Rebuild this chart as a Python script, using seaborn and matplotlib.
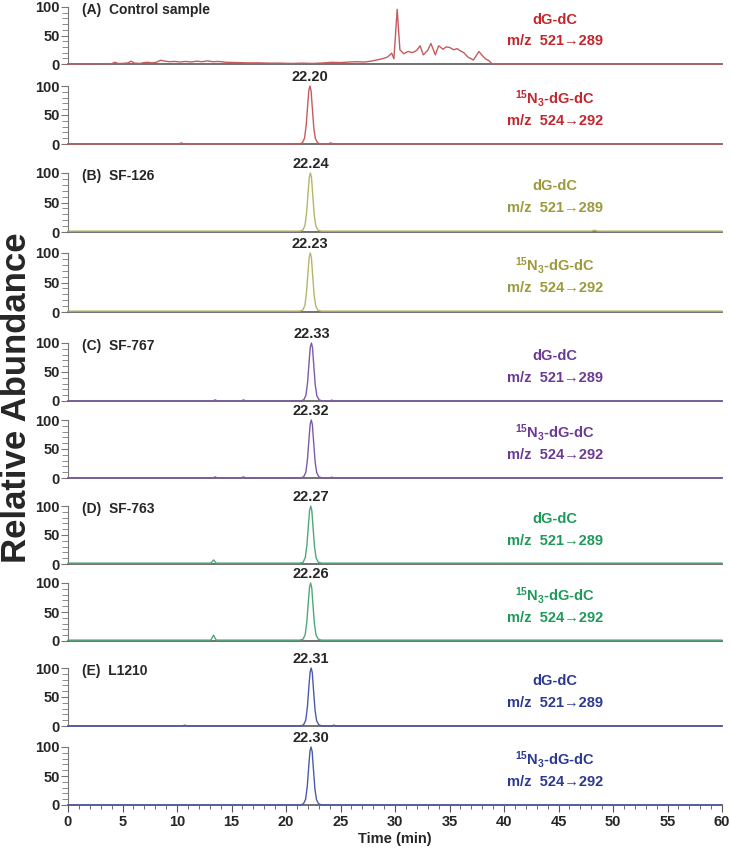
import pandas as pd
import seaborn as sns
import matplotlib.pyplot as plt

# ============================================================================
# DATA  (time in min, relative abundance in %)
# ============================================================================
# (A) control sample, dG-dC m/z 521->289 (noisy background, no peak at 22 min)
a1_t = [0, 4.0, 4.3, 4.6, 5.0, 5.5, 5.8, 6.1, 6.6, 7.0, 7.3, 7.7, 8.1, 8.5,
        8.9, 9.3, 9.8, 10.3, 10.8, 11.3, 11.8, 12.3, 12.8, 13.3, 13.8, 14.5,
        15.5, 16.5, 17.5, 18.5, 19.5, 20.5, 21.5, 22.5, 23.5, 24.2, 25.0,
        25.8, 26.5, 27.2, 27.8, 28.3, 28.8, 29.3, 29.7, 29.9, 30.2, 30.45,
        30.8, 31.2, 31.6, 32.0, 32.3, 32.6, 33.0, 33.3, 33.7, 34.0, 34.4,
        34.7, 35.0, 35.4, 35.7, 36.0, 36.3, 36.7, 37.2, 37.7, 38.0, 38.3,
        38.6, 38.9, 39.2, 60]
a1_y = [0, 0.5, 3, 1, 1, 2, 5, 1.5, 1, 2.5, 3, 2, 3, 6.5,
        5, 4, 4.5, 3.5, 4.5, 3.5, 5, 4, 5.5, 4, 4.5, 3,
        2.5, 2, 2, 1.5, 1.5, 1, 1.5, 1, 2, 3, 2.5,
        3.5, 4, 3.5, 5, 7, 9, 12, 19, 9, 96, 25,
        18, 22, 20, 24, 32, 16, 24, 36, 16, 32, 26,
        30, 29, 25, 27, 23, 20, 12, 7, 22, 15, 9,
        6, 0.5, 0, 0]

# (A) control sample, 15N3-dG-dC m/z 524->292
a2_t = [0, 10.2, 10.4, 10.6, 21.20, 21.50, 21.70, 21.85, 22.00, 22.10, 22.20,
        22.30, 22.40, 22.55, 22.70, 22.90, 23.20, 23.9, 24.1, 24.3, 60]
a2_y = [0, 0, 2, 0, 0, 2, 10, 32, 70, 93, 100,
        92, 66, 28, 9, 2, 0, 0, 2, 0, 0]

# (B) SF-126
b1_t = [0, 21.24, 21.54, 21.74, 21.89, 22.04, 22.14, 22.24, 22.34, 22.44,
        22.59, 22.74, 22.94, 23.24, 48.0, 48.3, 48.6, 60]
b1_y = [1.5, 1.5, 3, 11, 33, 70, 93, 100, 92, 66,
        29, 10, 3, 1.5, 1.5, 3, 1.5, 1.5]
b2_t = [0, 21.23, 21.53, 21.73, 21.88, 22.03, 22.13, 22.23, 22.33, 22.43,
        22.58, 22.73, 22.93, 23.23, 60]
b2_y = [1.5, 1.5, 3, 11, 33, 70, 93, 100, 92, 66,
        29, 10, 3, 1.5, 1.5]

# (C) SF-767
c1_t = [0, 13.3, 13.5, 13.7, 15.9, 16.1, 16.3, 21.33, 21.63, 21.83, 21.98,
        22.13, 22.23, 22.33, 22.43, 22.53, 22.68, 22.83, 23.03, 23.33, 24.0,
        24.2, 24.4, 60]
c1_y = [0, 0, 2, 0, 0, 2, 0, 0, 2, 10, 32,
        70, 93, 100, 92, 66, 28, 9, 2, 0, 0,
        1.5, 0, 0]
c2_t = [0, 13.3, 13.5, 13.7, 15.9, 16.1, 16.3, 21.32, 21.62, 21.82, 21.97,
        22.12, 22.22, 22.32, 22.42, 22.52, 22.67, 22.82, 23.02, 23.32, 24.0,
        24.2, 24.4, 60]
c2_y = [0, 0, 2, 0, 0, 2, 0, 0, 2, 10, 32,
        70, 93, 100, 92, 66, 28, 9, 2, 0, 0,
        1.5, 0, 0]

# (D) SF-763
d1_t = [0, 13.1, 13.35, 13.6, 21.27, 21.57, 21.77, 21.92, 22.07, 22.17,
        22.27, 22.37, 22.47, 22.62, 22.77, 22.97, 23.27, 60]
d1_y = [1.5, 1.5, 7, 1.5, 1.5, 3, 11, 33, 70, 93,
        100, 92, 66, 29, 10, 3, 1.5, 1.5]
d2_t = [0, 13.1, 13.35, 13.6, 21.26, 21.56, 21.76, 21.91, 22.06, 22.16,
        22.26, 22.36, 22.46, 22.61, 22.76, 22.96, 23.26, 60]
d2_y = [1.5, 1.5, 10, 1.5, 1.5, 3, 11, 33, 70, 93,
        100, 92, 66, 29, 10, 3, 1.5, 1.5]

# (E) L1210
e1_t = [0, 10.5, 10.7, 10.9, 21.31, 21.61, 21.81, 21.96, 22.11, 22.21,
        22.31, 22.41, 22.51, 22.66, 22.81, 23.01, 23.31, 24.2, 24.4, 24.6, 60]
e1_y = [0, 0, 1.5, 0, 0, 2, 10, 32, 70, 93,
        100, 92, 66, 28, 9, 2, 0, 0, 1.5, 0, 0]
e2_t = [0, 21.30, 21.60, 21.80, 21.95, 22.10, 22.20, 22.30, 22.40, 22.50,
        22.65, 22.80, 23.00, 23.30, 60]
e2_y = [0, 0, 2, 10, 32, 70, 93, 100, 92, 66,
        28, 9, 2, 0, 0]

# panel annotations
sample_labels = ['(A)  Control sample', None, '(B)  SF-126', None,
                 '(C)  SF-767', None, '(D)  SF-763', None, '(E)  L1210', None]
peak_labels = [None, '22.20', '22.24', '22.23', '22.33', '22.32',
               '22.27', '22.26', '22.31', '22.30']
peak_times = [None, 22.20, 22.24, 22.23, 22.33, 22.32, 22.27, 22.26, 22.31, 22.30]
analyte_labels = ['dG-dC', r'$\mathbf{^{15}N_3}$-dG-dC'] * 5
transition_labels = ['m/z  521\u2192289', 'm/z  524\u2192292'] * 5

# ============================================================================
# STYLE
# ============================================================================
text_colors = ['#C1272D', '#9C9A3A', '#6B3A95', '#1E9A58', '#2B3A90']
line_colors = ['#C65B5E', '#B8B469', '#7D5BA8', '#4FA878', '#4B5AAE']

traces = [(a1_t, a1_y), (a2_t, a2_y), (b1_t, b1_y), (b2_t, b2_y),
          (c1_t, c1_y), (c2_t, c2_y), (d1_t, d1_y), (d2_t, d2_y),
          (e1_t, e1_y), (e2_t, e2_y)]

frames = []
for i, (t, y) in enumerate(traces):
    frames.append(pd.DataFrame({'time': t, 'abundance': y, 'panel': i}))
df = pd.concat(frames, ignore_index=True)

sns.set_theme(style="ticks")
plt.rcParams['font.family'] = ['Liberation Sans', 'DejaVu Sans']
plt.rcParams['font.weight'] = 'bold'
plt.rcParams['mathtext.fontset'] = 'custom'
plt.rcParams['mathtext.rm'] = 'Liberation Sans'
plt.rcParams['mathtext.bf'] = 'Liberation Sans:bold'

W, H = 731, 850
fig = plt.figure(figsize=(W / 100, H / 100), dpi=100)

# pixel rows of the 100 and 0 levels of each panel
top_px = [7, 86, 173, 253, 343, 420, 506, 583, 668, 747]
zero_px = [64, 144, 232, 312, 401, 478, 564, 641, 726, 805]
left_px, right_px = 68, 722

for i in range(10):
    ax = fig.add_axes([left_px / W, 1 - zero_px[i] / H,
                       (right_px - left_px) / W, (zero_px[i] - top_px[i]) / H])
    grp = i // 2
    sns.lineplot(data=df[df['panel'] == i], x='time', y='abundance',
                 color=line_colors[grp], linewidth=1.0, estimator=None,
                 ax=ax, clip_on=False, zorder=3)

    ax.set_xlim(0, 60)
    ax.set_ylim(0, 100)
    ax.set_xlabel('')
    ax.set_ylabel('')
    sns.despine(ax=ax)
    ax.spines['left'].set_color('#777777')
    ax.spines['left'].set_linewidth(0.8)
    ax.spines['bottom'].set_color('#666666')
    ax.spines['bottom'].set_linewidth(1.3)

    ax.set_yticks([0, 50, 100])
    ax.set_yticks(range(0, 101, 10), minor=True)
    ax.tick_params(axis='y', which='major', length=5, width=0.8, color='#777777',
                   labelsize=10.5, pad=1)
    ax.tick_params(axis='y', which='minor', length=4, width=0.6, color='#777777')

    if i < 9:
        ax.tick_params(axis='x', which='both', bottom=False, labelbottom=False)
    else:
        ax.set_xticks(range(0, 61, 5))
        ax.set_xticks(range(0, 61, 1), minor=True)
        ax.tick_params(axis='x', which='major', length=5, width=0.8,
                       color='#555555', labelsize=10.5, pad=2)
        ax.tick_params(axis='x', which='minor', length=3, width=0.6, color='#555555')
        ax.set_xlabel('Time (min)', fontsize=10.5, fontweight='bold', labelpad=2)

    for lab in ax.get_xticklabels() + ax.get_yticklabels():
        lab.set_fontweight('bold')

    if sample_labels[i]:
        ax.text(0.021, 0.95, sample_labels[i], transform=ax.transAxes,
                ha='left', va='center', fontsize=10, fontweight='bold')
    if peak_labels[i]:
        ax.annotate(peak_labels[i], xy=(peak_times[i], 100), xytext=(0, 1.5),
                    textcoords='offset points', ha='center', va='bottom',
                    fontsize=10.5, fontweight='bold')

    ax.text(0.745, 0.78, analyte_labels[i], transform=ax.transAxes,
            ha='center', va='center', fontsize=10.5, fontweight='bold',
            color=text_colors[grp])
    ax.text(0.745, 0.40, transition_labels[i], transform=ax.transAxes,
            ha='center', va='center', fontsize=10.5, fontweight='bold',
            color=text_colors[grp])

fig.text(0, 1 - 398 / H, 'Relative Abundance', rotation=90,
         ha='left', va='center', fontsize=25, fontweight='bold')

plt.savefig("out.png", dpi=100)
